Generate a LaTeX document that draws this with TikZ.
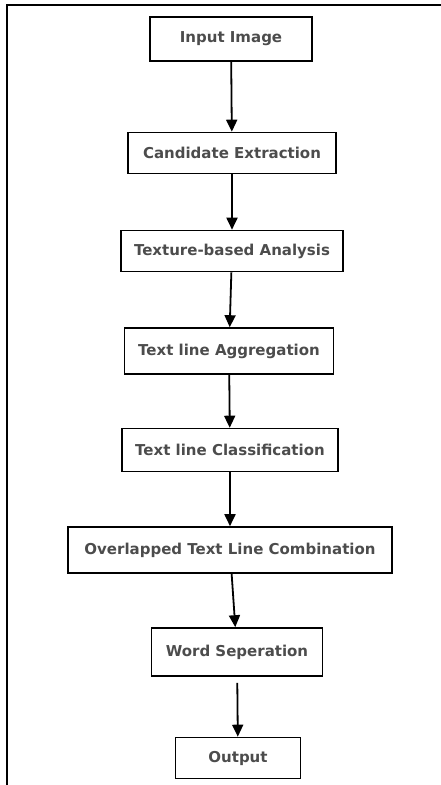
\documentclass[tikz,border=0pt]{standalone}
\usepackage{fontspec}
\setmainfont{DejaVu Sans}
\usetikzlibrary{arrows.meta}

\begin{document}
\begin{tikzpicture}[
		x=1pt, y=-1pt,
		every node/.style={rectangle, draw, line width=1.6pt, inner sep=0pt,
			font=\bfseries\fontsize{15}{17}\selectfont, text=black!70},
		flow/.style={-{Triangle[width=11pt,length=12pt]}, line width=1.8pt}
	]
  \useasboundingbox (0,0) rectangle (441,785);
  \draw[line width=1.5pt] (7,785) -- (7,5) -- (441,5);
  \node (input) [minimum width=162pt, minimum height=44pt] at (231,39) {Input Image};
  \node (cand) [minimum width=208pt, minimum height=41pt] at (232,153) {Candidate Extraction};
  \node (texture) [minimum width=222pt, minimum height=41pt] at (232,251) {Texture-based Analysis};
  \node (aggr) [minimum width=209pt, minimum height=46pt] at (229,351) {Text line Aggregation};
  \node (classif) [minimum width=216pt, minimum height=43pt] at (230,450) {Text line Classification};
  \node (overlap) [minimum width=324pt, minimum height=46pt] at (230,550) {Overlapped Text Line Combination};
  \node (word) [minimum width=171pt, minimum height=48pt] at (237,652) {Word Seperation};
  \node (output) [minimum width=125pt, minimum height=41pt] at (238,758) {Output};
  \draw[flow] (input) -- (cand);
  \draw[flow] (cand) -- (texture);
  \draw[flow] (texture) -- (aggr);
  \draw[flow] (aggr) -- (classif);
  \draw[flow] (classif) -- (overlap);
  \draw[flow] (overlap) -- (word);
  \draw[flow, shorten <=6pt] (word) -- (output);
\end{tikzpicture}
\end{document}
